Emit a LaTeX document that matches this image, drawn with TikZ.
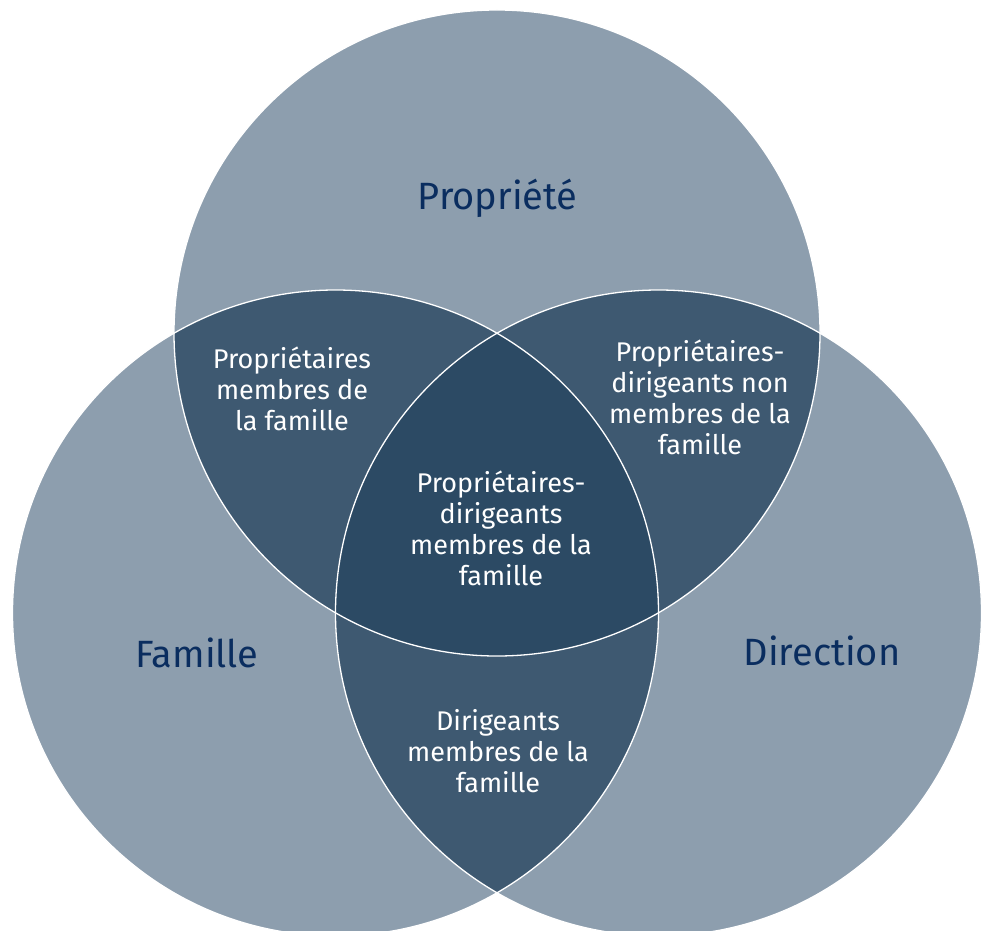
\documentclass[tikz,border=0pt]{standalone}
\usepackage{fontspec}
\setmainfont{Fira Sans}
\definecolor{lightc}{HTML}{8D9EAE}
\definecolor{midc}{HTML}{3E5971}
\definecolor{darkc}{HTML}{2C4A64}
\definecolor{labelc}{HTML}{0A2D5F}
\tikzset{
  biglabel/.style={text=labelc, font=\fontsize{38}{44}\selectfont, anchor=base, inner sep=0pt},
  innertext/.style={text=white, font=\fontsize{27}{31}\selectfont, align=center, inner sep=0pt},
  border/.style={draw=white, line width=1.3pt}
}
\begin{document}
\begin{tikzpicture}[x=1pt,y=-1pt]
\clip (0,0) rectangle (990,931);
\fill[white] (0,0) rectangle (990,931);
\coordinate (T) at (497,333);
\coordinate (L) at (335.5,613);
\coordinate (R) at (658.5,613);
\def\rr{323pt}
% single circles
\fill[lightc] (T) circle[radius=\rr];
\fill[lightc] (L) circle[radius=\rr];
\fill[lightc] (R) circle[radius=\rr];
% pairwise
\begin{scope}
  \clip (T) circle[radius=\rr];
  \fill[midc] (L) circle[radius=\rr];
  \fill[midc] (R) circle[radius=\rr];
\end{scope}
\begin{scope}
  \clip (L) circle[radius=\rr];
  \fill[midc] (R) circle[radius=\rr];
\end{scope}
% triple
\begin{scope}
  \clip (T) circle[radius=\rr];
  \clip (L) circle[radius=\rr];
  \fill[darkc] (R) circle[radius=\rr];
\end{scope}
% borders
\draw[border] (T) circle[radius=\rr];
\draw[border] (L) circle[radius=\rr];
\draw[border] (R) circle[radius=\rr];
% labels
\node[biglabel] (prop) at (497.5,209) {Propriété};
\node[biglabel] (fam) at (197,667) {Famille};
\node[biglabel] (dir) at (822,665) {Direction};
% inner texts
\node[innertext] (pf) at (292,389) {Propriétaires\\membres de\\la famille};
\node[innertext] (pdn) at (700,397) {Propriétaires-\\dirigeants non\\membres de la\\famille};
\node[innertext] (pdf) at (501,528) {Propriétaires-\\dirigeants\\membres de la\\famille};
\node[innertext] (df) at (498,751) {Dirigeants\\membres de la\\famille};
\end{tikzpicture}
\end{document}
